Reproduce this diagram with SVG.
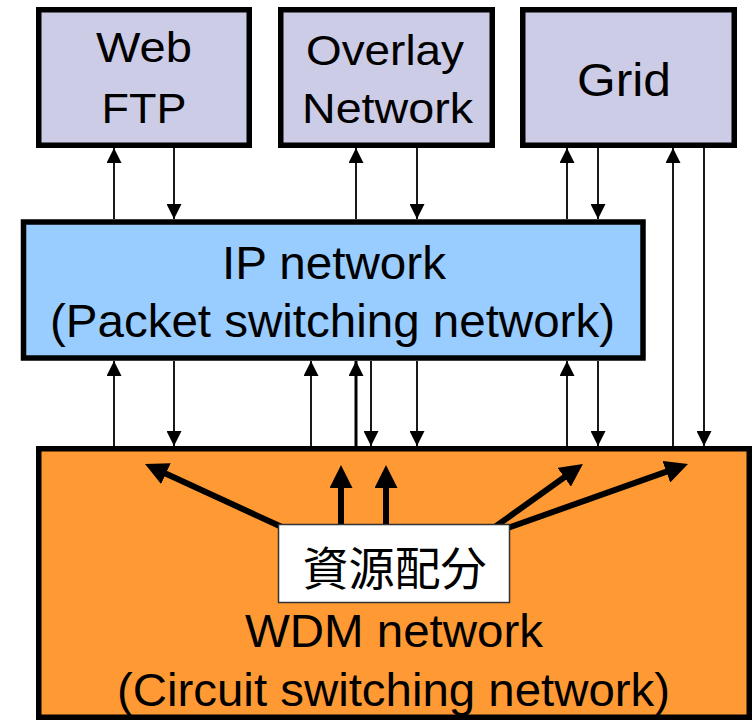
<svg xmlns="http://www.w3.org/2000/svg" width="755" height="720" viewBox="0 0 755 720">
<style>
.box{stroke:#000;stroke-width:5.5}
.top{fill:#CCCCE6}
.ip{fill:#99CCFF}
.wdm{fill:#FF9933}
.t{font-family:"Liberation Sans",Arial,sans-serif;fill:#000;text-anchor:middle}
.cjk{font-family:"Noto Sans CJK JP","Noto Sans CJK SC",sans-serif;fill:#000;text-anchor:middle}
.thin{stroke:#000;stroke-width:1.8;fill:none}
.thick{stroke:#000;stroke-width:6;fill:none;marker-end:url(#big)}
.up{marker-start:url(#hs)}
.dn{marker-end:url(#he)}
</style>
<defs>
<marker id="he" markerUnits="userSpaceOnUse" markerWidth="15" markerHeight="15" refX="15" refY="7.5" orient="auto" viewBox="0 0 15 15"><path d="M0,0 L15,7.5 L0,15 z" fill="#000"/></marker>
<marker id="hs" markerUnits="userSpaceOnUse" markerWidth="15" markerHeight="15" refX="0" refY="7.5" orient="auto" viewBox="0 0 15 15"><path d="M15,0 L0,7.5 L15,15 z" fill="#000"/></marker>
<marker id="big" markerUnits="userSpaceOnUse" markerWidth="23" markerHeight="23" refX="13" refY="11.5" orient="auto" viewBox="0 0 23 23"><path d="M0,0 L23,11.5 L0,23 z" fill="#000"/></marker>
</defs>

<g id="wdm">
<rect class="box wdm" x="38.75" y="448.75" width="710.5" height="268.5"/>
</g>

<g id="connectors">
<!-- top to IP -->
<line class="thin up" x1="114" y1="148" x2="114" y2="219"/>
<line class="thin dn" x1="174" y1="148" x2="174" y2="219"/>
<line class="thin up" x1="356" y1="148" x2="356" y2="219"/>
<line class="thin dn" x1="417" y1="148" x2="417" y2="219"/>
<line class="thin up" x1="567" y1="148" x2="567" y2="219"/>
<line class="thin dn" x1="598" y1="148" x2="598" y2="219"/>
<!-- Grid to WDM -->
<line class="thin up" x1="673" y1="148" x2="673" y2="446"/>
<line class="thin dn" x1="704" y1="148" x2="704" y2="446"/>
<!-- IP to WDM -->
<line class="thin up" x1="114" y1="361" x2="114" y2="446"/>
<line class="thin dn" x1="174" y1="361" x2="174" y2="446"/>
<line class="thin up" x1="311" y1="361" x2="311" y2="446"/>
<line class="thin up" x1="356" y1="361" x2="356" y2="446" style="stroke-width:3"/>
<line class="thin dn" x1="371" y1="361" x2="371" y2="446"/>
<line class="thin dn" x1="417" y1="361" x2="417" y2="446"/>
<line class="thin up" x1="567" y1="361" x2="567" y2="446"/>
<line class="thin dn" x1="598" y1="361" x2="598" y2="446"/>
<!-- resource allocation arrows -->
<line class="thick" x1="284" y1="528" x2="154.1" y2="468.2"/>
<line class="thick" x1="341" y1="530" x2="341" y2="475"/>
<line class="thick" x1="386" y1="530" x2="386" y2="475"/>
<line class="thick" x1="492" y1="529" x2="574.8" y2="469.7"/>
<line class="thick" x1="505" y1="529" x2="678.6" y2="467.3"/>
</g>

<g id="webftp">
<rect class="box top" x="38.75" y="9.75" width="210.5" height="135.5"/>
<text class="t" x="144" y="62" font-size="42" textLength="96" lengthAdjust="spacingAndGlyphs">Web</text>
<text class="t" x="144" y="123" font-size="42" textLength="85" lengthAdjust="spacingAndGlyphs">FTP</text>
</g>

<g id="overlay">
<rect class="box top" x="280.75" y="9.75" width="211.5" height="135.5"/>
<text class="t" x="385" y="65" font-size="42" textLength="158" lengthAdjust="spacingAndGlyphs">Overlay</text>
<text class="t" x="387.5" y="123" font-size="42" textLength="171" lengthAdjust="spacingAndGlyphs">Network</text>
</g>

<g id="grid">
<rect class="box top" x="522.75" y="9.75" width="211.5" height="135.5"/>
<text class="t" x="624" y="96" font-size="46" textLength="94" lengthAdjust="spacingAndGlyphs">Grid</text>
</g>

<g id="ip">
<rect class="box ip" x="23.5" y="222" width="619.5" height="136"/>
<text class="t" x="334" y="279" font-size="46" textLength="224" lengthAdjust="spacingAndGlyphs">IP network</text>
<text class="t" x="332.5" y="337" font-size="46" textLength="565" lengthAdjust="spacingAndGlyphs">(Packet switching network)</text>
</g>

<g id="alloc">
<rect x="278.5" y="524.5" width="231" height="78" fill="#fff" stroke="#333" stroke-width="1.5"/>
<text class="cjk" x="394.5" y="585" font-size="46">資源配分</text>
</g>

<g id="wdmtext">
<text class="t" x="394" y="647" font-size="46" textLength="298" lengthAdjust="spacingAndGlyphs">WDM network</text>
<text class="t" x="393.5" y="706" font-size="46" textLength="553" lengthAdjust="spacingAndGlyphs">(Circuit switching network)</text>
</g>
</svg>
